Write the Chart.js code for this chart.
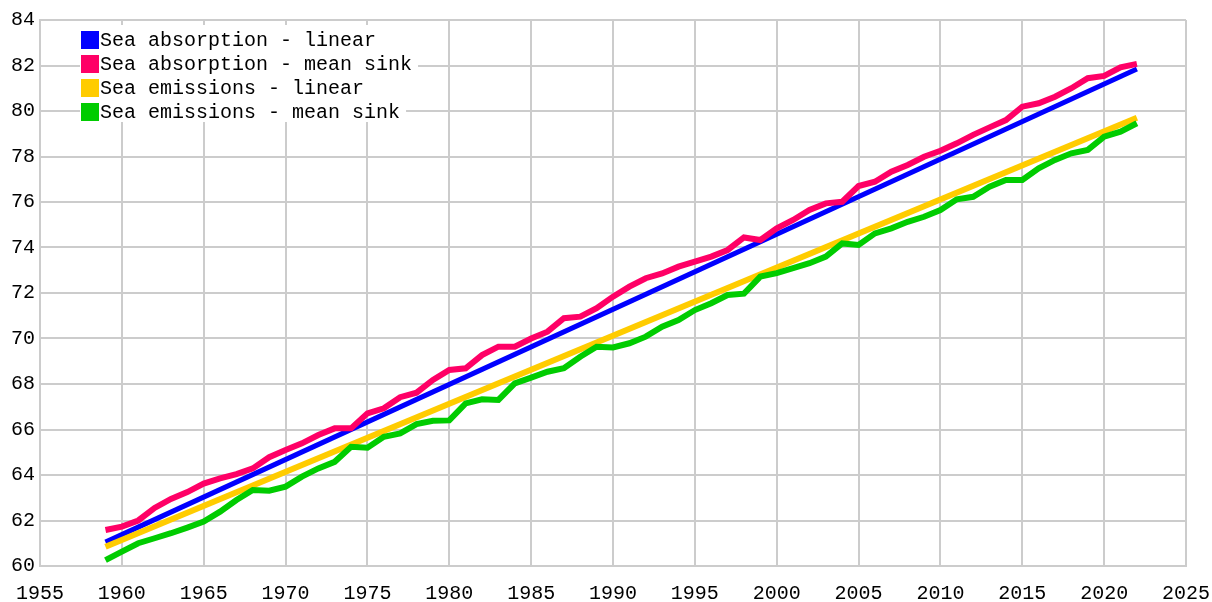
<!DOCTYPE html>
<html>
<head>
<meta charset="utf-8">
<script src="https://cdn.jsdelivr.net/npm/chart.js@4/dist/chart.umd.min.js"></script>
<style>
  html, body { margin: 0; padding: 0; background: #fff; }
  #wrap { width: 1212px; height: 602px; }
</style>
</head>
<body>
<div id="wrap"><canvas id="chart" width="1212" height="602"></canvas></div>
<script>
const seriesNames = [
    "Sea absorption - linear",
    "Sea absorption - mean sink",
    "Sea emissions - linear",
    "Sea emissions - mean sink"
];
const seriesColors = ["#0000ff", "#ff0066", "#ffcc00", "#00cc00"];

const years = [
    1959, 1960, 1961, 1962, 1963, 1964, 1965, 1966, 1967, 1968,
    1969, 1970, 1971, 1972, 1973, 1974, 1975, 1976, 1977, 1978,
    1979, 1980, 1981, 1982, 1983, 1984, 1985, 1986, 1987, 1988,
    1989, 1990, 1991, 1992, 1993, 1994, 1995, 1996, 1997, 1998,
    1999, 2000, 2001, 2002, 2003, 2004, 2005, 2006, 2007, 2008,
    2009, 2010, 2011, 2012, 2013, 2014, 2015, 2016, 2017, 2018,
    2019, 2020, 2021, 2022
];

const absorptionMeanSink = [
    61.58, 61.73, 62.00, 62.55, 62.95, 63.25, 63.62, 63.85, 64.04, 64.29,
    64.78, 65.10, 65.39, 65.76, 66.05, 66.05, 66.71, 66.93, 67.42, 67.62,
    68.18, 68.62, 68.69, 69.27, 69.64, 69.64, 70.00, 70.30, 70.89, 70.96,
    71.33, 71.84, 72.28, 72.65, 72.86, 73.16, 73.38, 73.60, 73.89, 74.44,
    74.33, 74.84, 75.21, 75.65, 75.94, 76.01, 76.70, 76.89, 77.33, 77.63,
    77.99, 78.25, 78.58, 78.95, 79.28, 79.60, 80.19, 80.34, 80.63, 81.00,
    81.44, 81.54, 81.92, 82.07
];

const emissionsMeanSink = [
    60.26, 60.63, 61.00, 61.22, 61.44, 61.69, 61.95, 62.39, 62.90, 63.34,
    63.31, 63.49, 63.93, 64.29, 64.58, 65.24, 65.20, 65.68, 65.83, 66.24,
    66.38, 66.40, 67.15, 67.33, 67.30, 68.03, 68.28, 68.54, 68.69, 69.20,
    69.64, 69.61, 69.79, 70.08, 70.52, 70.81, 71.25, 71.55, 71.91, 71.97,
    72.72, 72.87, 73.09, 73.31, 73.60, 74.18, 74.11, 74.62, 74.84, 75.13,
    75.35, 75.65, 76.12, 76.23, 76.67, 76.97, 76.97, 77.48, 77.85, 78.14,
    78.29, 78.87, 79.09, 79.46
];

// straight fits: only the two end points
const linearYears = [1959, 2022];
const absorptionLinear = [61.05, 81.85];
const emissionsLinear = [60.85, 79.70];

const xTicks = [1955, 1960, 1965, 1970, 1975, 1980, 1985, 1990, 1995, 2000, 2005, 2010, 2015, 2020, 2025];
const yTicks = [60, 62, 64, 66, 68, 70, 72, 74, 76, 78, 80, 82, 84];

const FONT = "'Liberation Mono', 'DejaVu Sans Mono', monospace";
const GRID = "#cccccc";

function pts(xs, ys) {
    return xs.map((x, i) => ({ x: x, y: ys[i] }));
}

// legend drawn inside the plot, over the grid
const insideLegend = {
    id: "insideLegend",
    beforeDatasetsDraw(chart) {
        const ctx = chart.ctx;
        const left = chart.chartArea.left + 41;
        const top = 31;
        const row = 24;
        ctx.save();
        ctx.font = "20px " + FONT;
        ctx.textBaseline = "middle";
        chart.data.datasets.forEach((ds, i) => {
            const w = ctx.measureText(ds.label).width;
            ctx.fillStyle = "#ffffff";
            ctx.fillRect(left - 1, top - 6 + i * row, 18 + w + 8, row + 1);
        });
        chart.data.datasets.forEach((ds, i) => {
            const y = top + i * row;
            ctx.fillStyle = ds.borderColor;
            ctx.fillRect(left, y, 18, 18);
            ctx.fillStyle = "#000000";
            ctx.fillText(ds.label, left + 19, y + 10);
        });
        ctx.restore();
    }
};

new Chart(document.getElementById("chart"), {
    type: "line",
    data: {
        datasets: [
            { label: seriesNames[0], data: pts(linearYears, absorptionLinear), borderColor: seriesColors[0], borderWidth: 5, order: 4 },
            { label: seriesNames[1], data: pts(years, absorptionMeanSink), borderColor: seriesColors[1], borderWidth: 6, order: 3 },
            { label: seriesNames[2], data: pts(linearYears, emissionsLinear), borderColor: seriesColors[2], borderWidth: 6, order: 2 },
            { label: seriesNames[3], data: pts(years, emissionsMeanSink), borderColor: seriesColors[3], borderWidth: 6, order: 1 }
        ]
    },
    options: {
        responsive: false,
        animation: false,
        events: [],
        layout: { padding: { top: 20, right: 26, left: 0, bottom: 0 } },
        elements: {
            point: { radius: 0 },
            line: { tension: 0, fill: false }
        },
        plugins: {
            legend: { display: false },
            tooltip: { enabled: false }
        },
        scales: {
            x: {
                type: "linear",
                min: 1955,
                max: 2025,
                afterBuildTicks: (s) => { s.ticks = xTicks.map(v => ({ value: v })); },
                afterFit: (s) => { s.height = 36; s.paddingLeft = 0; s.paddingRight = 0; },
                grid: { color: GRID, lineWidth: 2, drawTicks: false },
                border: { color: GRID, width: 2 },
                ticks: {
                    color: "#000",
                    font: { family: FONT, size: 20 },
                    padding: 16,
                    maxRotation: 0,
                    autoSkip: false,
                    callback: (v) => String(v)
                }
            },
            y: {
                min: 60,
                max: 84,
                afterBuildTicks: (s) => { s.ticks = yTicks.map(v => ({ value: v })); },
                afterFit: (s) => { s.width = 40; s.paddingTop = 0; s.paddingBottom = 0; },
                grid: { color: GRID, lineWidth: 2, drawTicks: false },
                border: { color: GRID, width: 2 },
                ticks: {
                    color: "#000",
                    font: { family: FONT, size: 20 },
                    padding: 5,
                    callback: (v) => String(v)
                }
            }
        }
    },
    plugins: [insideLegend]
});
</script>
</body>
</html>
